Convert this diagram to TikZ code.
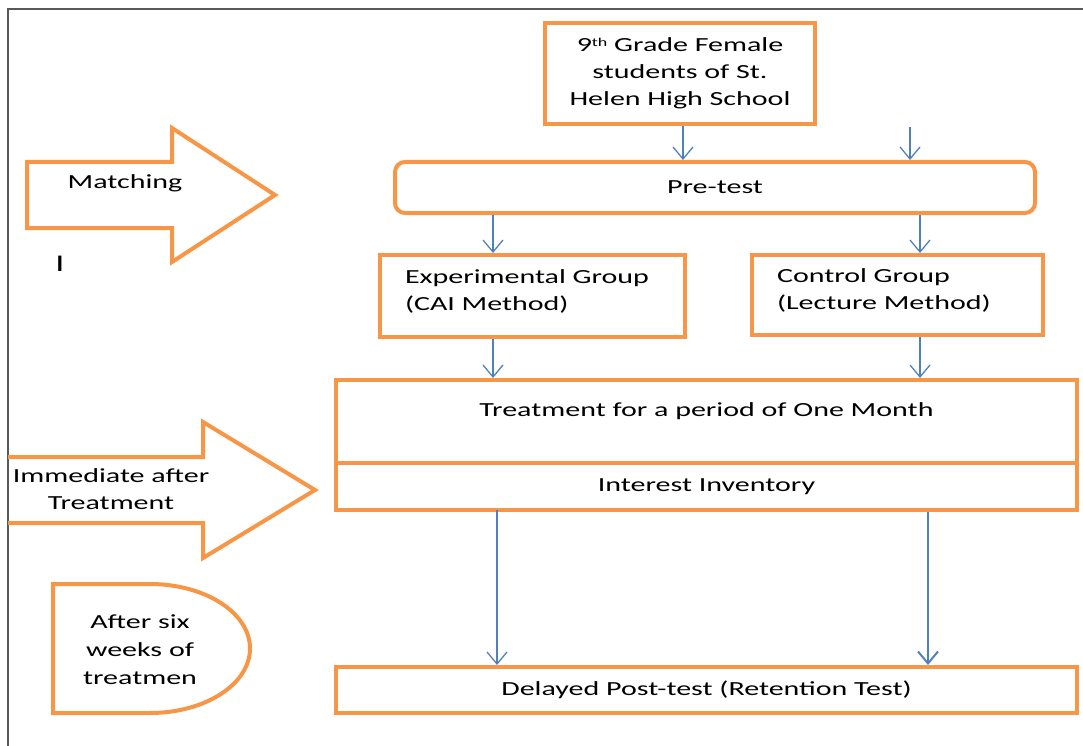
\documentclass[tikz,border=0pt]{standalone}
\usepackage{fontspec}
\setmainfont[FakeStretch=1.5]{Carlito}
\usetikzlibrary{arrows.meta}
\definecolor{boxorange}{HTML}{F79646}
\definecolor{arrowblue}{HTML}{4F81BD}
\begin{document}
\begin{tikzpicture}[x=1pt,y=-1pt]
  \tikzstyle{stage}=[rectangle,draw=boxorange,line width=4pt,inner sep=0pt,font=\fontsize{20}{27}\selectfont,text=black]
  \tikzstyle{flow}=[draw=arrowblue,line width=1.3pt,-{Straight Barb[length=12pt,width=20pt]}]
  \tikzstyle{bigarrow}=[draw=boxorange,line width=4pt,line join=miter]
  \tikzstyle{note}=[align=center,inner sep=0pt,font=\fontsize{20}{27}\selectfont,text=black]
  \useasboundingbox (0,0) rectangle (1083,746);
  \draw[black!65,line width=1.5pt] (8,746) -- (8,9) -- (1083,9);
  \begin{scope}
    \node [stage,minimum width=270,minimum height=101,align=center] (school) at (680,73.5) {9\raisebox{5pt}{\fontsize{12}{12}\selectfont th} Grade Female\\students of St.\\Helen High School};
    \node [stage,rounded corners=10pt,minimum width=640,minimum height=51] (pretest) at (715,187.5) {Pre-test};
    \node [stage,minimum width=305,minimum height=82,text width=255,align=left] (exp) at (532.5,296) {Experimental Group\\(CAI Method)\\[-15pt]\mbox{}};
    \node [stage,minimum width=291,minimum height=80,text width=241,align=left] (ctrl) at (897.5,295) {Control Group\\(Lecture Method)\\[-15pt]\mbox{}};
    \node [stage,minimum width=741,minimum height=83,text depth=24pt] (treat) at (706.5,421.5) {Treatment for a period of One Month};
    \node [stage,minimum width=741,minimum height=47] (interest) at (706.5,486.5) {Interest Inventory};
    \node [stage,minimum width=741,minimum height=46] (delayed) at (706.5,690) {Delayed Post-test (Retention Test)};
    \coordinate (schoolx) at (683,0);
    \coordinate (freetop) at (910,127);
    \coordinate (lcol) at (493,0);
    \coordinate (rcol) at (920,0);
    \coordinate (llong) at (497,0);
    \coordinate (rlong) at (928,0);
    \draw[flow] (school.south -| schoolx) -- (pretest.north -| schoolx);
    \draw[flow] (freetop) -- (pretest.north -| freetop);
    \draw[flow] (pretest.south -| lcol) -- (exp.north -| lcol);
    \draw[flow] (pretest.south -| rcol) -- (ctrl.north -| rcol);
    \draw[flow] (exp.south -| lcol) -- (treat.north -| lcol);
    \draw[flow] (ctrl.south -| rcol) -- (treat.north -| rcol);
    \draw[flow] ([yshift=2]interest.south -| llong) -- (delayed.north -| llong);
    \draw[flow,line width=2pt] (interest.south -| rlong) -- (delayed.north -| rlong);
  \end{scope}
  \begin{scope}
    \draw[bigarrow] (27,162) -- (172,162) -- (172,128) -- (275,195) -- (172,262) -- (172,228) -- (27,228) -- cycle;
    \node [note] (matching) at (125,183) {Matching};
    \node [note,font=\fontsize{24}{24}\selectfont] (cursor) at (60,264) {I};
    \draw[bigarrow] (8,457) -- (203,457) -- (203,422) -- (315,490) -- (203,558) -- (203,523) -- (8,523);
    \node [note] (immediate) at (111,489.5) {Immediate after\\Treatment};
    \draw[bigarrow] (53,584) -- (150,584) arc[start angle=-90,end angle=90,x radius=100,y radius=64.5] -- (53,713) -- cycle;
    \node [note,font=\fontsize{20}{28}\selectfont] (delay) at (140,650) {After six\\weeks of\\treatmen};
  \end{scope}
\end{tikzpicture}
\end{document}
